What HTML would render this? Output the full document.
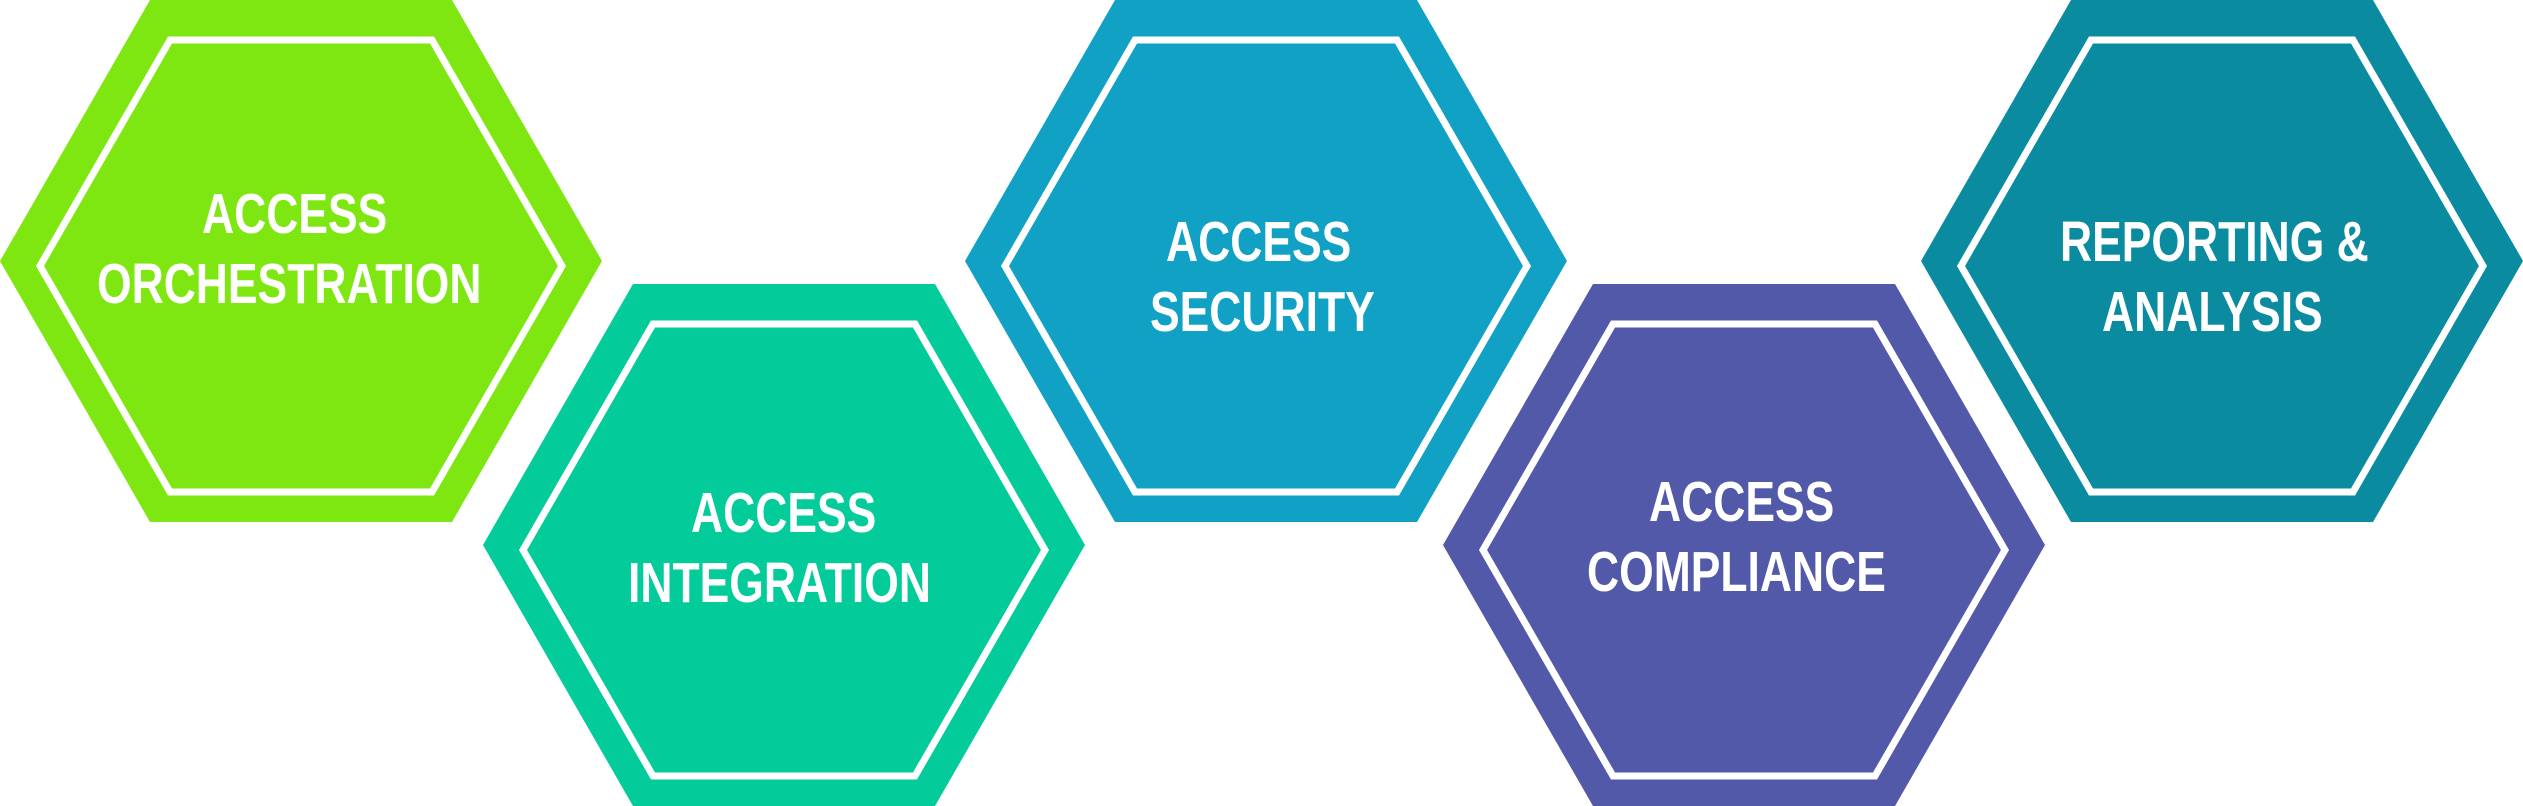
<!DOCTYPE html>
<html><head><meta charset="utf-8"><style>
html,body{margin:0;padding:0;background:#fff;}
body{position:relative;width:2523px;height:806px;overflow:hidden;}
svg{display:block;position:absolute;left:0;top:0;}
.t{position:absolute;font-family:"Liberation Sans",sans-serif;font-weight:bold;color:#fff;font-size:57px;line-height:57px;white-space:nowrap;transform:scaleX(0.78);transform-origin:0 0;}
</style></head><body>
<svg width="2523" height="806" viewBox="0 0 2523 806" xmlns="http://www.w3.org/2000/svg">
<g transform="translate(301,261)">
<polygon points="-151,-261 151,-261 301,0 151,261 -151,261 -301,0" fill="#7ee712"/>
<polygon points="-131,-221 131,-221 261,5 131,231 -131,231 -261,5" fill="none" stroke="#fff" stroke-width="7"/>
</g>
<g transform="translate(784,545)">
<polygon points="-151,-261 151,-261 301,0 151,261 -151,261 -301,0" fill="#03cb99"/>
<polygon points="-131,-221 131,-221 261,5 131,231 -131,231 -261,5" fill="none" stroke="#fff" stroke-width="7"/>
</g>
<g transform="translate(1266,261)">
<polygon points="-151,-261 151,-261 301,0 151,261 -151,261 -301,0" fill="#10a1c4"/>
<polygon points="-131,-221 131,-221 261,5 131,231 -131,231 -261,5" fill="none" stroke="#fff" stroke-width="7"/>
</g>
<g transform="translate(1744,545)">
<polygon points="-151,-261 151,-261 301,0 151,261 -151,261 -301,0" fill="#5259a9"/>
<polygon points="-131,-221 131,-221 261,5 131,231 -131,231 -261,5" fill="none" stroke="#fff" stroke-width="7"/>
</g>
<g transform="translate(2222,261)">
<polygon points="-151,-261 151,-261 301,0 151,261 -151,261 -301,0" fill="#0a8b9f"/>
<polygon points="-131,-221 131,-221 261,5 131,231 -131,231 -261,5" fill="none" stroke="#fff" stroke-width="7"/>
</g>
</svg>
<div class="t" style="left:202px;top:186px">ACCESS</div>
<div class="t" style="left:97px;top:256px">ORCHESTRATION</div>
<div class="t" style="left:691px;top:485px">ACCESS</div>
<div class="t" style="left:628px;top:555px">INTEGRATION</div>
<div class="t" style="left:1166px;top:214px">ACCESS</div>
<div class="t" style="left:1150px;top:284px">SECURITY</div>
<div class="t" style="left:1649px;top:474px">ACCESS</div>
<div class="t" style="left:1587px;top:544px">COMPLIANCE</div>
<div class="t" style="left:2060px;top:214px">REPORTING &amp;</div>
<div class="t" style="left:2102px;top:284px">ANALYSIS</div>
</body></html>
